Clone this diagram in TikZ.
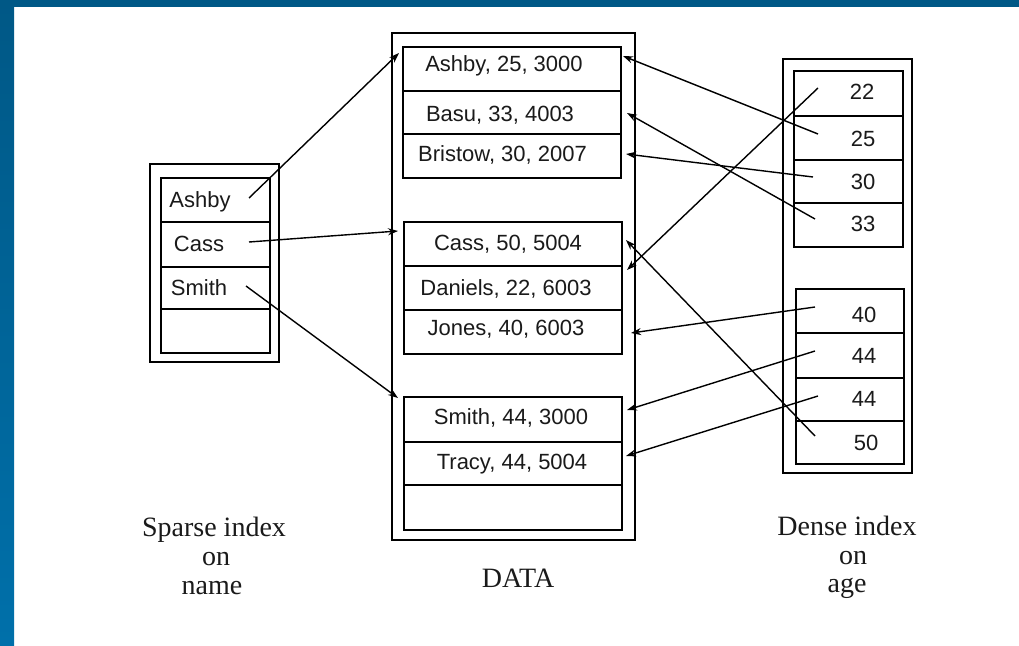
\documentclass[tikz,border=0pt]{standalone}
\usepackage{fontspec}
\setmainfont{Liberation Serif}
\newfontfamily\arialfont{Liberation Sans}
\usetikzlibrary{arrows.meta}
\definecolor{bandtop}{HTML}{005886}
\definecolor{bandbot}{HTML}{0070AA}
\definecolor{ink}{HTML}{1A1A1A}
\tikzset{
  cell/.style={draw=black, line width=1.5pt, inner sep=0pt},
  frame/.style={draw=black, line width=1.5pt},
  txt/.style={font=\arialfont\fontsize{22}{24}\selectfont, text=ink, anchor=base, inner sep=0pt},
  captxt/.style={font=\fontsize{28}{30}\selectfont, text=ink, anchor=base, inner sep=0pt},
  ptr/.style={draw=black, line width=1.4pt, -{Stealth[length=10pt,width=7pt]}},
}
\begin{document}
\begin{tikzpicture}[x=1pt,y=-1pt]
\useasboundingbox (0,0) rectangle (1019,645);
\fill[white] (0,0) rectangle (1019,645);
% blue border
\fill[bandtop] (0,0) rectangle (1019,7);
\shade[top color=bandtop, bottom color=bandbot] (0,0) rectangle (14,645);

% ---- sparse index ----
\draw[frame] (150,164) rectangle (279,362);
\node[cell, minimum width=109pt, minimum height=44pt] (s1) at (215.5,200) {};
\node[cell, minimum width=109pt, minimum height=45pt] (s2) at (215.5,244.5) {};
\node[cell, minimum width=109pt, minimum height=42pt] (s3) at (215.5,288) {};
\node[cell, minimum width=109pt, minimum height=44pt] (s4) at (215.5,331) {};
\node[txt] (ts1) at (200,207) {Ashby};
\node[txt] (ts2) at (199,251) {Cass};
\node[txt] (ts3) at (199,295) {Smith};

% ---- data ----
\draw[frame] (392,33) rectangle (635,540);
\node[cell, minimum width=218pt, minimum height=44pt] (d1) at (512,69) {};
\node[cell, minimum width=218pt, minimum height=43pt] (d2) at (512,112.5) {};
\node[cell, minimum width=218pt, minimum height=44pt] (d3) at (512,156) {};
\node[cell, minimum width=218pt, minimum height=44pt] (d4) at (513,244) {};
\node[cell, minimum width=218pt, minimum height=44pt] (d5) at (513,288) {};
\node[cell, minimum width=218pt, minimum height=44pt] (d6) at (513,332) {};
\node[cell, minimum width=218pt, minimum height=45pt] (d7) at (513,419.5) {};
\node[cell, minimum width=218pt, minimum height=43pt] (d8) at (513,463.5) {};
\node[cell, minimum width=218pt, minimum height=45pt] (d9) at (513,507.5) {};
\node[txt] (td1) at (504,71) {Ashby, 25, 3000};
\node[txt] (td2) at (500,121) {Basu, 33, 4003};
\node[txt] (td3) at (502.5,161) {Bristow, 30, 2007};
\node[txt] (td4) at (508,250) {Cass, 50, 5004};
\node[txt] (td5) at (506,295) {Daniels, 22, 6003};
\node[txt] (td6) at (506,335) {Jones, 40, 6003};
\node[txt] (td7) at (511,424) {Smith, 44, 3000};
\node[txt] (td8) at (512,469) {Tracy, 44, 5004};

% ---- dense index ----
\draw[frame] (783,59) rectangle (912,473);
\node[cell, minimum width=109pt, minimum height=45pt] (e1) at (848.5,93.5) {};
\node[cell, minimum width=109pt, minimum height=44pt] (e2) at (848.5,138) {};
\node[cell, minimum width=109pt, minimum height=43pt] (e3) at (848.5,181.5) {};
\node[cell, minimum width=109pt, minimum height=44pt] (e4) at (848.5,225) {};
\node[cell, minimum width=108pt, minimum height=44pt] (e5) at (850,311) {};
\node[cell, minimum width=108pt, minimum height=45pt] (e6) at (850,355.5) {};
\node[cell, minimum width=108pt, minimum height=43pt] (e7) at (850,399.5) {};
\node[cell, minimum width=108pt, minimum height=43pt] (e8) at (850,442.5) {};
\node[txt] (te1) at (862,99) {22};
\node[txt] (te2) at (863,146) {25};
\node[txt] (te3) at (863,189) {30};
\node[txt] (te4) at (863,231) {33};
\node[txt] (te5) at (864,322) {40};
\node[txt] (te6) at (864,363) {44};
\node[txt] (te7) at (864,406) {44};
\node[txt] (te8) at (866,450) {50};

% ---- captions ----
\node[captxt] (c1) at (214,536) {Sparse index};
\node[captxt] (c2) at (216,565) {on};
\node[captxt] (c3) at (212,594) {name};
\node[captxt] (c4) at (518,587) {DATA};
\node[captxt] (c5) at (847,535) {Dense index};
\node[captxt] (c6) at (853,564) {on};
\node[captxt] (c7) at (847,592) {age};

% ---- pointer ends ----
\coordinate (a1s) at (249,198); \coordinate (a1t) at (399,53);
\coordinate (a2s) at (249,242); \coordinate (a2t) at (398,231);
\coordinate (a3s) at (246,286); \coordinate (a3t) at (398,398);
\coordinate (b1s) at (818,134); \coordinate (b1t) at (623,56);
\coordinate (b2s) at (815,219); \coordinate (b2t) at (627,113);
\coordinate (b3s) at (813,177); \coordinate (b3t) at (626,154);
\coordinate (b4s) at (818,88);  \coordinate (b4t) at (627,270);
\coordinate (b5s) at (815,307); \coordinate (b5t) at (631,333);
\coordinate (b6s) at (815,351); \coordinate (b6t) at (627,410);
\coordinate (b7s) at (818,396); \coordinate (b7t) at (626,456);
\coordinate (b8s) at (815,436); \coordinate (b8t) at (626,240);

\draw[ptr] (a1s) -- (a1t);
\draw[ptr] (a2s) -- (a2t);
\draw[ptr] (a3s) -- (a3t);
\draw[ptr] (b1s) -- (b1t);
\draw[ptr] (b2s) -- (b2t);
\draw[ptr] (b3s) -- (b3t);
\draw[ptr] (b4s) -- (b4t);
\draw[ptr] (b5s) -- (b5t);
\draw[ptr] (b6s) -- (b6t);
\draw[ptr] (b7s) -- (b7t);
\draw[ptr] (b8s) -- (b8t);
\end{tikzpicture}
\end{document}
